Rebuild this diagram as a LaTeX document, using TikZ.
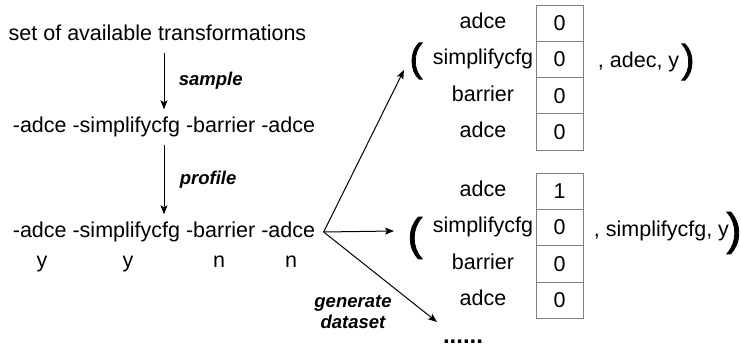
\documentclass[tikz,border=0pt]{standalone}
\usepackage{fontspec}
\setmainfont{Liberation Sans}
\newfontfamily\parenfont[FakeBold=1.8]{Liberation Sans}
\usetikzlibrary{arrows.meta,positioning}
\tikzstyle{txt} = [font=\fontsize{21.5}{26}\selectfont, inner ysep=7pt, text height=16pt, text depth=5pt]
\tikzstyle{lbl} = [font=\fontsize{18.5}{21}\selectfont\bfseries\itshape, align=center]
\tikzstyle{cell} = [draw=black!50, line width=0.9pt, minimum width=47pt, minimum height=36.3pt, inner sep=0pt, font=\fontsize{21.5}{26}\selectfont]
\tikzstyle{arr} = [draw, line width=1pt, -{Stealth[length=9pt,width=7pt,inset=2pt]}]
\tikzstyle{paren} = [inner sep=0pt]

\begin{document}
\begin{tikzpicture}[x=1pt, y=-1pt, node distance=36.3pt]
    \useasboundingbox (0,0) rectangle (741,347);
    % left column
    \node[txt] (set) at (157.5,35) {set of available transformations};
    \node[txt] (seq) at (164,127) {-adce -simplifycfg -barrier -adce};
    \node[txt] (prof) at (164,232) {-adce -simplifycfg -barrier -adce};
    \node[txt] (r1) at (42,262) {y};
    \node[txt] (r2) at (128,262) {y};
    \node[txt] (r3) at (219,262) {n};
    \node[txt] (r4) at (291,262) {n};
    \draw
    (seq.north |- set.south) edge[arr] node[lbl, right=11pt] {sample} (seq.north)
    (seq.south) edge[arr] node[lbl, right=12pt] {profile} (prof.north)
    ;

    % first sample
    \node[cell] (a1) at (559.5,23.2) {0};
    \node[cell, below of=a1] (a2) {0};
    \node[cell, below of=a2] (a3) {0};
    \node[cell, below of=a3] (a4) {0};
    \node[txt, node distance=76.5pt, left of=a1] (la1) {adce};
    \node[txt, node distance=76.5pt, left of=a2] (la2) {simplifycfg};
    \node[txt, node distance=76.5pt, left of=a3] (la3) {barrier};
    \node[txt, node distance=76.5pt, left of=a4] (la4) {adce};
    \node[txt, right=11pt of a2, yshift=-3pt] (ta) {, adec, y};
    \node[paren, font=\fontsize{39}{40}\parenfont] (pa) at (416,61) {(};
    \node[paren, font=\fontsize{39}{40}\parenfont] (qa) at (688,62) {)};

    % second sample
    \node[cell] (b1) at (559.5,191.2) {1};
    \node[cell, below of=b1] (b2) {0};
    \node[cell, below of=b2] (b3) {0};
    \node[cell, below of=b3] (b4) {0};
    \node[txt, node distance=76.5pt, left of=b1] (lb1) {adce};
    \node[txt, node distance=76.5pt, left of=b2] (lb2) {simplifycfg};
    \node[txt, node distance=76.5pt, left of=b3] (lb3) {barrier};
    \node[txt, node distance=76.5pt, left of=b4] (lb4) {adce};
    \node[txt, right=7pt of b2, yshift=-4pt] (tb) {, simplifycfg, y};
    \node[paren, font=\fontsize{45}{46}\parenfont] (pb) at (415,238) {(};
    \node[paren, font=\fontsize{45}{46}\parenfont] (qb) at (734,233) {)};

    \node[font=\fontsize{24}{24}\selectfont\bfseries, anchor=base, inner sep=0pt] (dots) at (463,343) {......};
    \node[lbl] (gen) at (353,312) {generate\\dataset};

    % generate dataset
    \coordinate (fan) at ([xshift=5pt]prof.east);
    \coordinate (e1) at (404,70);
    \coordinate (e2) at (394,231);
    \coordinate (e3) at (437,322);
    \draw
    (fan) edge[arr] (e1)
    (fan) edge[arr] (e2)
    (fan) edge[arr] (e3)
    ;
\end{tikzpicture}
\end{document}
